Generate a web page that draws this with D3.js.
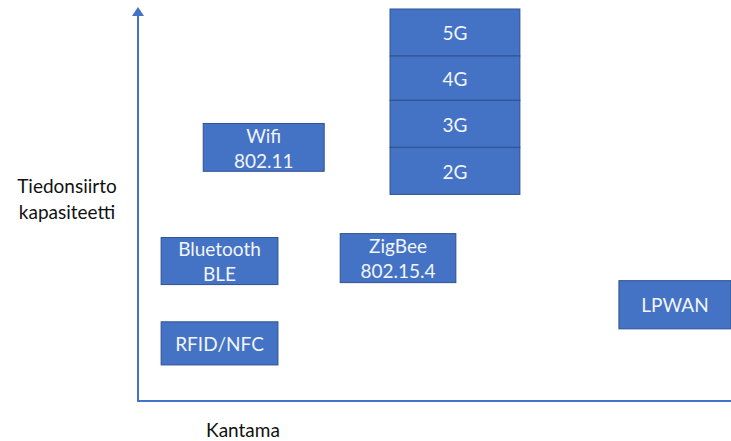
<!DOCTYPE html>
<html>
<head>
<meta charset="utf-8">
<script src="https://cdn.jsdelivr.net/npm/d3@7"></script>
<style>
  body { margin: 0; background: #fff; }
  svg { display: block; font-family: Lato, "Open Sans", sans-serif; }
</style>
</head>
<body>
<svg id="chart" width="731" height="441"></svg>
<script>
// technologies, placed on range (x) vs. capacity (y), units 0..100
const tech_labels = [
  ["Wifi", "802.11"],
  ["5G"], ["4G"], ["3G"], ["2G"],
  ["Bluetooth", "BLE"],
  ["ZigBee", "802.15.4"],
  ["RFID/NFC"],
  ["LPWAN"],
];
const range_min = [11, 42.5, 42.5, 42.5, 42.5, 3.9, 34.1, 3.9, 81.1];
const range_max = [31.4, 64.4, 64.4, 64.4, 64.4, 23.6, 53.6, 23.6, 100];
const cap_min = [58.6, 88, 76.7, 64.7, 52.7, 29.7, 30.2, 9.2, 18.4];
const cap_max = [70.8, 100, 88, 76.7, 64.7, 41.7, 42.7, 20.2, 30.7];

const x_title = "Kantama";
const y_title = ["Tiedonsiirto", "kapasiteetti"];

const width = 731;
const height = 441;
const margin = { top: 9, right: 0, bottom: 40, left: 138 };
const blue = "#4472c4";
const font_size = 19;

const x = d3.scaleLinear()
  .domain([0, 100])
  .range([margin.left, width - margin.right]);
const y = d3.scaleLinear()
  .domain([0, 100])
  .range([height - margin.bottom, margin.top]);

const svg = d3.select("#chart");

const rows = tech_labels.map((lab, i) => ({
  lines: lab,
  x0: range_min[i], x1: range_max[i],
  y0: cap_min[i], y1: cap_max[i],
}));

// boxes
const g = svg.append("g").selectAll("g").data(rows).join("g");
g.append("rect")
  .attr("x", (d) => x(d.x0))
  .attr("y", (d) => y(d.y1))
  .attr("width", (d) => x(d.x1) - x(d.x0))
  .attr("height", (d) => y(d.y0) - y(d.y1))
  .attr("fill", blue)
  .attr("stroke", "#2f528f")
  .attr("stroke-width", 1);

const line_h = 25;
g.append("text")
  .attr("text-anchor", "middle")
  .attr("fill", "#f2f5fb")
  .attr("font-size", font_size)
  .each(function (d) {
    const cx = (x(d.x0) + x(d.x1)) / 2;
    const cy = (y(d.y0) + y(d.y1)) / 2 + 1;
    const n = d.lines.length;
    d3.select(this).selectAll("tspan").data(d.lines).join("tspan")
      .attr("x", cx)
      .attr("y", (_, j) => cy + (j - (n - 1) / 2) * line_h)
      .attr("dy", "0.35em")
      .text((t) => t);
  });

// axes
svg.append("line")
  .attr("x1", x(0) - 1).attr("x2", width)
  .attr("y1", y(0)).attr("y2", y(0))
  .attr("stroke", blue).attr("stroke-width", 2);
svg.append("line")
  .attr("x1", x(0)).attr("x2", x(0))
  .attr("y1", y(0)).attr("y2", y(100) + 4)
  .attr("stroke", blue).attr("stroke-width", 2);
svg.append("path")
  .attr("d", `M${x(0)},${y(100) - 2} l-6,9 l12,0 z`)
  .attr("fill", blue);

// titles
svg.append("text")
  .attr("x", 243).attr("y", 437)
  .attr("text-anchor", "middle")
  .attr("font-size", font_size)
  .attr("fill", "#111")
  .text(x_title);

svg.append("text")
  .attr("text-anchor", "middle")
  .attr("font-size", font_size)
  .attr("fill", "#111")
  .selectAll("tspan").data(y_title).join("tspan")
  .attr("x", 67)
  .attr("y", (_, j) => 193 + j * 26)
  .text((t) => t);
</script>
</body>
</html>
